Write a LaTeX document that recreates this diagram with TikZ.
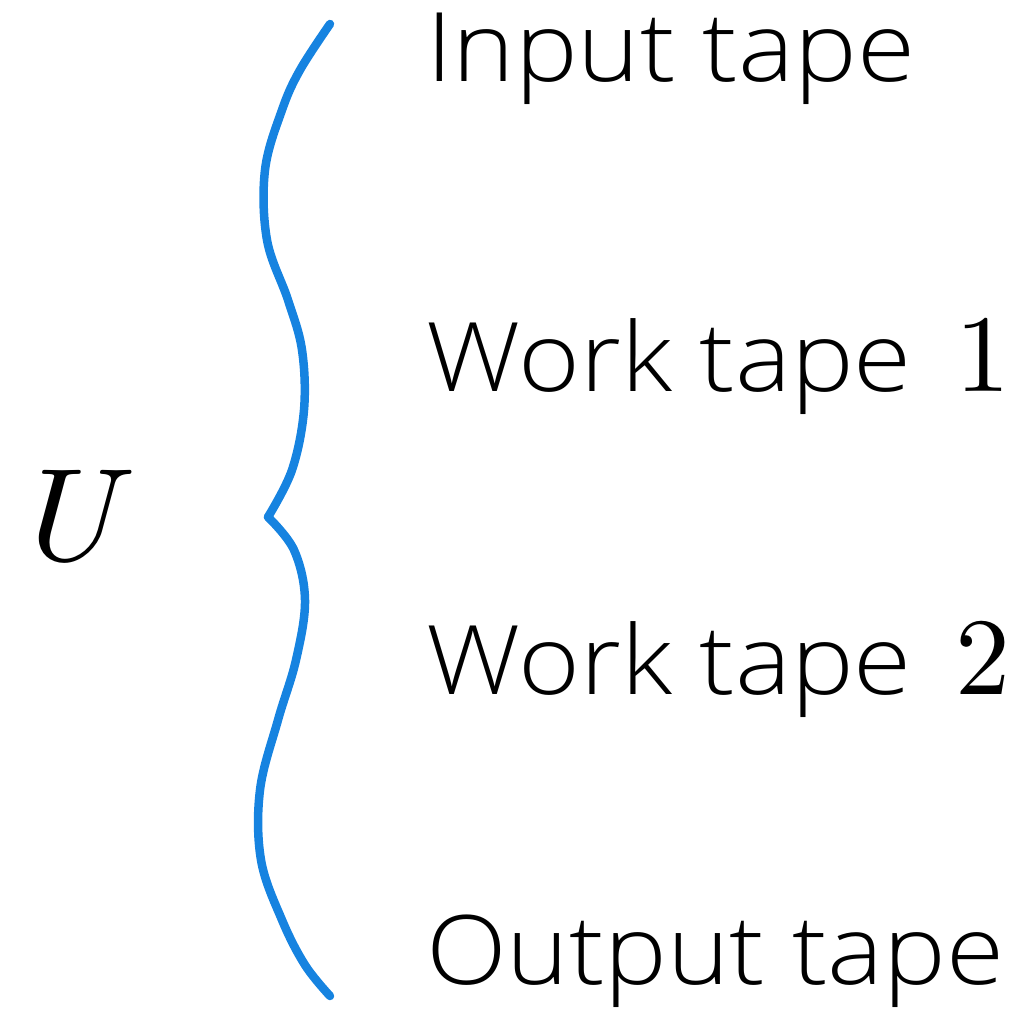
\documentclass[tikz,border=0pt]{standalone}
\usepackage[no-math]{fontspec}
\setmainfont{Open Sans}
\newfontfamily\lblfont[FakeStretch=1.1]{Open Sans Light}
\newfontfamily\lmr{lmroman10-regular.otf}
\newfontfamily\lmu[FakeStretch=1.08]{lmroman10-italic.otf}
\begin{document}
\begin{tikzpicture}[x=1pt,y=-1pt]
\definecolor{braceblue}{HTML}{1683E0}
\tikzset{
  lbl/.style={anchor=base west,inner sep=0pt,font=\fontsize{96}{100}\selectfont\lblfont},
  bracepart/.style={braceblue,line width=8.5pt,line cap=round,line join=round}
}
\newcommand{\dig}[1]{\hspace{0.45em}{\lmr\fontsize{110}{110}\selectfont #1}}
\useasboundingbox (0,0) rectangle (1026,1019);
\node[lbl] (in) at (426,82) {Input tape};
\node[lbl] (w1) at (426,391) {Work tape\dig{1}};
\node[lbl] (w2) at (426,694) {Work tape\dig{2}};
\node[lbl] (out) at (426,984) {Output tape};
\node[anchor=base west,inner sep=0pt] (u) at (10,560) {\lmu\fontsize{132}{132}\selectfont U};
\draw[bracepart]
  plot[smooth,tension=0.6] coordinates {(330,24) (300,70) (282,110) (265,170) (267,240) (288,300) (302,350) (304,410) (292,470) (268,517)};
\draw[bracepart]
  plot[smooth,tension=0.6] coordinates {(268,517) (294,550) (305,600) (296,660) (278,720) (260,790) (261,860) (282,920) (305,965) (330,996)};
\end{tikzpicture}
\end{document}
